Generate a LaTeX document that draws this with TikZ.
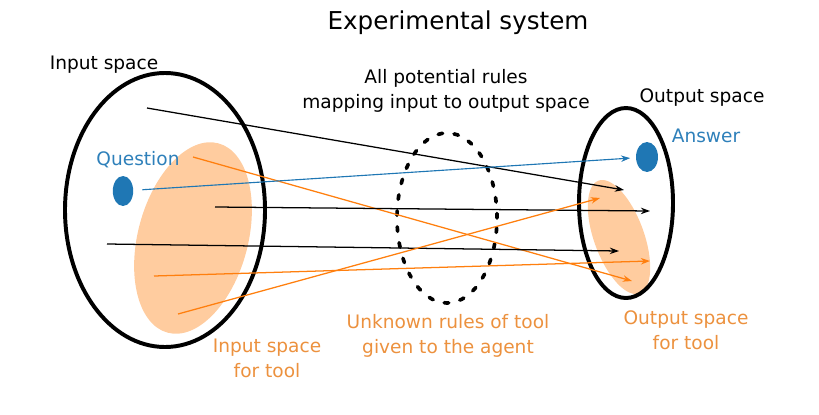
\documentclass[tikz,border=0pt]{standalone}
\usepackage{fontspec}
\setmainfont{DejaVu Sans}
\usetikzlibrary{arrows.meta,shapes.geometric}

\definecolor{tabblue}{HTML}{1F77B4}
\definecolor{taborange}{HTML}{FF7F0E}
\definecolor{textorange}{HTML}{EC913E}
\definecolor{textblue}{HTML}{2E80BA}

\begin{document}
\begin{tikzpicture}[x=0.025cm, y=0.025cm,
    space/.style={draw, line width=2.8pt},
    toolspace/.style={fill=taborange!40},
    dot/.style={ellipse, fill=tabblue, inner sep=0pt, minimum width=14.5pt, minimum height=21.3pt},
    rule/.style={-{Stealth[length=6.5pt,width=4.6pt]}, line width=0.9pt},
    lbl/.style={font=\fontsize{13.2}{17.7}\selectfont, align=center}
  ]
    \useasboundingbox (0,0) rectangle (819,-414);

    % spaces
    \fill[toolspace, rotate around={-15:(193,-238)}] (193,-238) ellipse [x radius=55, y radius=98];
    \fill[toolspace, rotate around={20:(619,-237)}] (619,-237) ellipse [x radius=25, y radius=60];
    \draw[space] (165,-210) ellipse [x radius=100, y radius=137];
    \draw[space] (626,-203) ellipse [x radius=47, y radius=95];
    \draw[line width=2.6pt, line cap=round, dash pattern=on 3.2pt off 8.2pt] (447,-218) ellipse [x radius=50, y radius=85];

    \node[dot] (q) at (123,-191) {};
    \node[dot, minimum width=15.6pt] (a) at (647,-157) {};

    % start and end points of the rules
    \coordinate (i1) at (147,-108);  \coordinate (o1) at (624,-190);
    \coordinate (i2) at (193,-157);  \coordinate (o2) at (632,-281);
    \coordinate (i3) at (215,-207);  \coordinate (o3) at (650,-211);
    \coordinate (i4) at (107,-244);  \coordinate (o4) at (619,-251);
    \coordinate (i5) at (154,-276);  \coordinate (o5) at (650,-261);
    \coordinate (i6) at (178,-314);  \coordinate (o6) at (600,-198);

    \draw[rule] (i1) -- (o1);
    \draw[rule, taborange] (i2) -- (o2);
    \draw[rule] (i3) -- (o3);
    \draw[rule] (i4) -- (o4);
    \draw[rule, taborange] (i5) -- (o5);
    \draw[rule, taborange] (i6) -- (o6);
    \draw[rule, tabblue, line width=0.8pt, shorten <=6.4pt, shorten >=4pt] (q) -- (a);

    % labels
    \node[font=\fontsize{17.5}{21}\selectfont, anchor=base] (title) at (458,-29) {Experimental system};
    \node[lbl, anchor=base] (inlbl) at (104,-69) {Input space};
    \node[lbl] (alllbl) at (446,-91) {All potential rules\\mapping input to output space};
    \node[lbl, anchor=base] (outlbl) at (702,-102) {Output space};
    \node[lbl, anchor=base, text=textblue] (qlbl) at (138,-165) {Question};
    \node[lbl, anchor=base, text=textblue] (albl) at (706,-142) {Answer};
    \node[lbl, text=textorange] (intool) at (267,-358) {Input space\\for tool};
    \node[lbl, text=textorange] (unknown) at (448,-336) {Unknown rules of tool\\given to the agent};
    \node[lbl, text=textorange] (outtool) at (686,-330) {Output space\\for tool};
  \end{tikzpicture}
\end{document}
